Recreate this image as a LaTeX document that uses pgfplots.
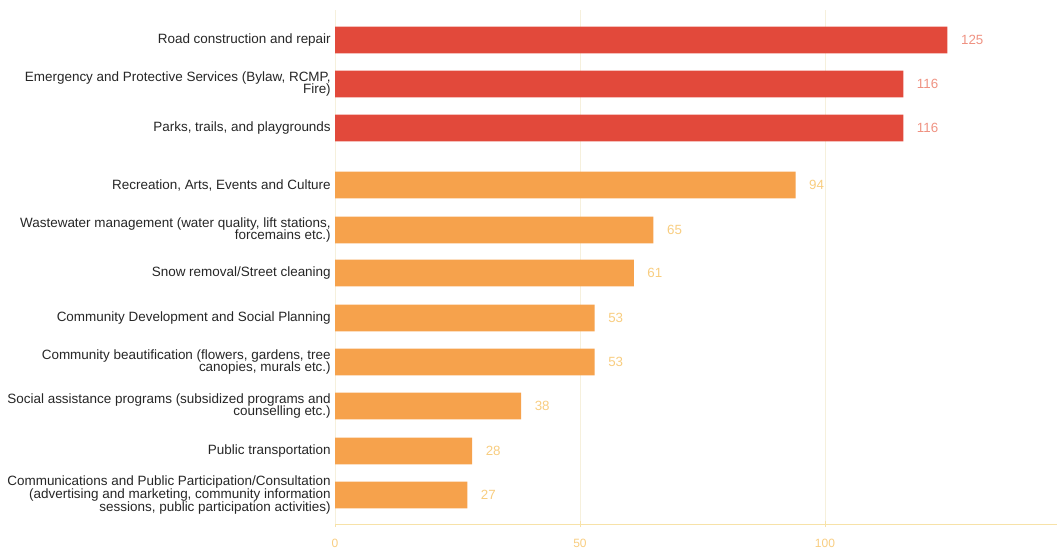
\documentclass[border=0pt]{standalone}
\usepackage{pgfplots}
\pgfplotsset{compat=1.18}
\usepackage{fontspec}
\setmainfont{Liberation Sans}
\definecolor{barred}{HTML}{E2493B}
\definecolor{barorange}{HTML}{F6A24C}
\definecolor{lblred}{HTML}{EF9282}
\definecolor{lblorange}{HTML}{F8CD80}
\definecolor{axcol}{HTML}{F7E2A8}
\definecolor{gridcol}{HTML}{F6F0DC}
\definecolor{labcol}{HTML}{262626}
\begin{document}
\begin{tikzpicture}[x=1pt,y=1pt]
\useasboundingbox (0,0) rectangle (792.75,411);
\begin{axis}[
  at={(251.25pt,18pt)}, anchor=south west,
  scale only axis, width=541.5pt, height=385.5pt,
  xmin=0, xmax=147.35, ymin=24, ymax=538,
  /pgf/number format/assume math mode=true,
  xbar, bar width=20pt, bar shift=0pt,
  ytick={508,464,420,363,318,275,230,186,142,97,53},
  yticklabels={
    {Road construction and repair},
    {Emergency and Protective Services (Bylaw, RCMP,\\Fire)},
    {Parks, trails, and playgrounds},
    {Recreation, Arts, Events and Culture},
    {Wastewater management (water quality, lift stations,\\forcemains etc.)},
    {Snow removal/Street cleaning},
    {Community Development and Social Planning},
    {Community beautification (flowers, gardens, tree\\canopies, murals etc.)},
    {Social assistance programs (subsidized programs and\\counselling etc.)},
    {Public transportation},
    {Communications and Public Participation/Consultation\\(advertising and marketing, community information\\sessions, public participation activities)}
  },
  yticklabel style={align=right, text=labcol, font=\fontsize{10.1}{9.6}\selectfont, inner sep=0pt, xshift=-0.5pt},
  ytick style={draw=none},
  xtick={0,50,100},
  axis x line*=bottom, axis y line*=left,
  x axis line style={axcol, -},
  y axis line style={gridcol, -},
  xmajorgrids, grid style={gridcol, line width=0.6pt},
  xtick style={axcol}, major tick length=5pt, tick align=center,
  xticklabel style={text=lblorange, font=\fontsize{9}{10}\selectfont, yshift=-5pt},
  nodes near coords,
  nodes near coords style={anchor=west, inner sep=0pt, xshift=10pt, font=\fontsize{10}{12}\selectfont},
  clip=false,
]
\addplot[fill=barred, draw=none, nodes near coords style={text=lblred}] coordinates {
  (125,508) (116,464) (116,420)
};
\addplot[fill=barorange, draw=none, nodes near coords style={text=lblorange}] coordinates {
  (94,363) (65,318) (61,275) (53,230) (53,186) (38,142) (28,97) (27,53)
};
\end{axis}
\end{tikzpicture}
\end{document}
